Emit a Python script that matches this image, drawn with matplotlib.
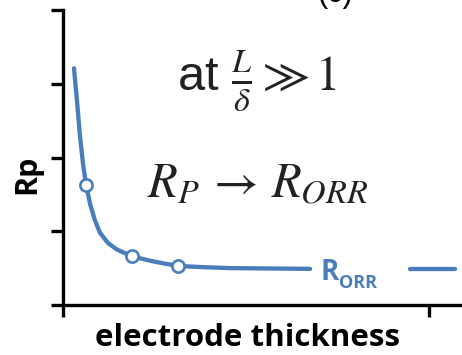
import numpy as np
import matplotlib
matplotlib.use("Agg")
import matplotlib.pyplot as plt

plt.rcParams['mathtext.fontset'] = 'stix'

# curve (x: electrode thickness, y: Rp), arbitrary units
thick = [0.030, 0.038, 0.046, 0.055, 0.063, 0.074, 0.087, 0.101, 0.123, 0.148,
         0.189, 0.238, 0.279, 0.314, 0.374, 0.456, 0.675]
rp = [3.21, 2.78, 2.31, 1.90, 1.63, 1.37, 1.15, 0.98, 0.84, 0.75,
      0.66, 0.60, 0.56, 0.53, 0.515, 0.50, 0.49]
# open circle markers
mark_x = [0.063, 0.189, 0.314]
mark_y = [1.63, 0.66, 0.53]
# tail after the R_ORR label
tail_x = [0.948, 1.071]
tail_y = [0.49, 0.49]

blue = '#4A7EBB'

fig = plt.figure(figsize=(4.62, 3.55), dpi=100)
ax = fig.add_axes([63/462, 50/355, 1 - 63/462, 295/355])

ax.plot(thick, rp, color=blue, lw=3.1, solid_capstyle='round',
        solid_joinstyle='round', zorder=2)
ax.plot(tail_x, tail_y, color=blue, lw=3.1, solid_capstyle='round', zorder=2)
ax.plot(mark_x, mark_y, 'o', ms=8.8, mfc='white', mec=blue, mew=1.9, zorder=3)

ax.set_xlim(0, 1.09)
ax.set_ylim(0, 4)
ax.set_xticks([0, 1])
ax.set_yticks([0, 1, 2, 3, 4])
ax.set_xticklabels([])
ax.set_yticklabels([])
ax.tick_params(length=8.6, width=2.4, direction='out', color='black')
for s in ['top', 'right']:
    ax.spines[s].set_visible(False)
for s in ['left', 'bottom']:
    ax.spines[s].set_linewidth(2.4)

# R_ORR label on the line
fig.text(330/462, 1 - 280/355, 'R', color=blue, fontsize=20, fontweight='bold',
         family='Open Sans', ha='center', va='baseline')
fig.text(358/462, 1 - 288/355, 'ORR', color=blue, fontsize=13, fontweight='bold',
         family='Open Sans', ha='center', va='baseline')

fig.text(257/462, 1 - 80/355, r'at $\frac{L}{\delta} \gg 1$', fontsize=35,
         family='Liberation Sans', color='#222222', ha='center', va='center')
fig.text(258/462, 1 - 183/355, r'$R_P\,\rightarrow\,R_{ORR}$', fontsize=35,
         color='#222222', ha='center', va='center')

fig.text(248/462, 1 - 338/355, 'electrode thickness', fontsize=22.5, fontweight='bold',
         family='Open Sans', ha='center', va='center')
fig.text(27/462, 1 - 174/355, 'Rp', fontsize=22, fontweight='bold', family='Open Sans',
         rotation=90, ha='center', va='center')
fig.text(335/462, 1 - 2/355, '(c)', fontsize=22, family='Liberation Sans',
         ha='center', va='baseline')

fig.savefig('out.png', dpi=100)
